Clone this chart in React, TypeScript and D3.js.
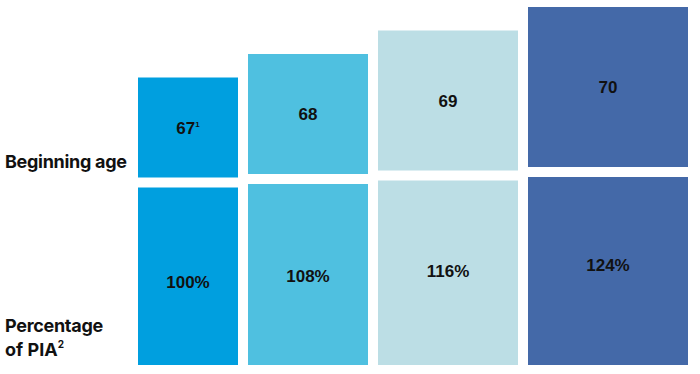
import * as d3 from 'd3';
import React, { useEffect, useRef } from 'react';

const ages = [67, 68, 69, 70];
const ageNotes = ['1', '', '', ''];
const percents = [100, 108, 116, 124];
const colors = ['#009fdf', '#4fc0e0', '#bcdee5', '#4469a8'];

const W = 700;
const H = 374;

const App: React.FC = () => {
  const svgRef = useRef(null);

  useEffect(() => {
    const svg = d3.select(svgRef.current);
    svg.selectAll('*').remove();

    const left = 138;
    const gap = 10;
    const baseY = 365;

    // square size grows with the beginning age
    const size = d3.scaleLinear().domain([67, 70]).range([100, 160]);
    // lower box height grows with the percentage
    const lowH = d3.scaleLinear().domain([100, 124]).range([177.5, 188]);
    const pctLabelY = d3.scaleLinear().domain([100, 124]).range([288, 271]);

    let x = left;
    const cols = ages.map((a, i) => {
      const s = size(a);
      const h = lowH(percents[i]);
      const c = { x, s, h, age: a, note: ageNotes[i], pct: percents[i], color: colors[i] };
      x += s + gap;
      return c;
    });

    const g = svg.append('g');

    const col = g.selectAll('g.col').data(cols).enter().append('g').attr('class', 'col');

    // bottom boxes (percentage of PIA)
    col
      .append('rect')
      .attr('x', (d) => d.x)
      .attr('y', (d) => baseY - d.h)
      .attr('width', (d) => d.s)
      .attr('height', (d) => d.h)
      .attr('fill', (d) => d.color);

    // top squares (beginning age)
    col
      .append('rect')
      .attr('x', (d) => d.x)
      .attr('y', (d) => baseY - d.h - gap - d.s)
      .attr('width', (d) => d.s)
      .attr('height', (d) => d.s)
      .attr('fill', (d) => d.color);

    const ageText = col
      .append('text')
      .attr('x', (d) => d.x + d.s / 2)
      .attr('y', (d) => baseY - d.h - gap - d.s / 2 + 6)
      .attr('text-anchor', 'middle')
      .attr('font-family', 'Liberation Sans, Arial, sans-serif')
      .attr('font-weight', 'bold')
      .attr('font-size', 17)
      .attr('fill', '#111');
    ageText.append('tspan').text((d) => String(d.age));
    ageText
      .filter((d) => d.note !== '')
      .append('tspan')
      .attr('font-size', 8)
      .attr('dy', -7)
      .text((d) => d.note);

    col
      .append('text')
      .attr('x', (d) => d.x + d.s / 2)
      .attr('y', (d) => pctLabelY(d.pct))
      .attr('text-anchor', 'middle')
      .attr('font-family', 'Liberation Sans, Arial, sans-serif')
      .attr('font-weight', 'bold')
      .attr('font-size', 17)
      .attr('fill', '#111');
    col
      .selectAll('text')
      .filter((_, j) => j === 1)
      .text((d: any) => `${d.pct}%`);

    // row labels
    const lab = g
      .append('g')
      .attr('font-family', 'Inter, sans-serif')
      .attr('font-weight', 700)
      .attr('font-size', 18)
      .attr('fill', '#111');
    lab.append('text').attr('x', 5).attr('y', 168).attr('letter-spacing', -0.3).text('Beginning age');
    lab.append('text').attr('x', 5).attr('y', 332).attr('letter-spacing', -0.3).text('Percentage');
    const pia = lab.append('text').attr('x', 5).attr('y', 356);
    pia.append('tspan').text('of PIA');
    pia.append('tspan').attr('font-size', 10).attr('dy', -8).text('2');
  }, []);

  return (
    <svg
      ref={svgRef}
      width={W}
      height={H}
      style={{ position: 'absolute', left: 0, top: 0, background: '#fff' }}
    />
  );
};

export default App;
